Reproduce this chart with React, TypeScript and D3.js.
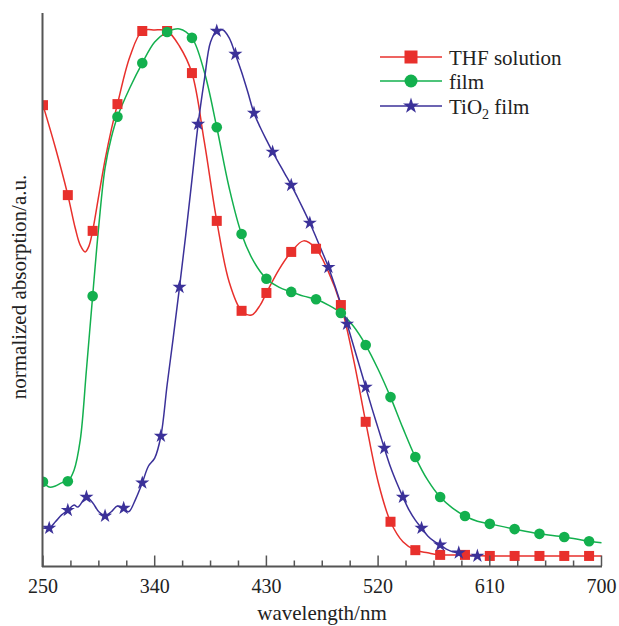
import React from "react";
import * as d3 from "d3";

// ---- Data ----
const thfWl = [250, 260, 270, 276, 280, 284, 287, 290, 295, 300, 305, 310, 320, 330, 340, 350, 360, 370, 380, 390, 400, 410, 418, 425, 430, 440, 450, 460, 470, 480, 490, 500, 510, 520, 530, 540, 550, 560, 570, 590, 610, 630, 650, 670, 690, 700];
const thfAbs = [0.859, 0.778, 0.688, 0.625, 0.593, 0.58, 0.591, 0.62, 0.688, 0.755, 0.812, 0.861, 0.951, 1.0, 1.002, 1.0, 0.971, 0.92, 0.789, 0.639, 0.523, 0.468, 0.46, 0.479, 0.502, 0.546, 0.58, 0.601, 0.586, 0.542, 0.479, 0.378, 0.257, 0.143, 0.067, 0.029, 0.013, 0.008, 0.004, 0.004, 0.002, 0.002, 0.002, 0.002, 0.002, 0.002];
const thfMarkers = [250, 270, 290, 310, 330, 350, 370, 390, 410, 430, 450, 470, 490, 510, 530, 550, 570, 590, 610, 630, 650, 670, 690];

const filmWl = [250, 255, 260, 265, 270, 275, 280, 285, 290, 295, 300, 305, 310, 320, 330, 340, 350, 360, 370, 380, 390, 400, 410, 420, 430, 440, 450, 460, 470, 480, 490, 500, 510, 520, 530, 540, 550, 560, 570, 580, 590, 600, 610, 630, 650, 670, 690, 700];
const filmAbs = [0.143, 0.133, 0.135, 0.141, 0.144, 0.165, 0.222, 0.356, 0.496, 0.631, 0.74, 0.797, 0.837, 0.892, 0.939, 0.979, 0.998, 1.004, 0.987, 0.922, 0.817, 0.702, 0.614, 0.561, 0.529, 0.513, 0.504, 0.496, 0.49, 0.479, 0.464, 0.439, 0.403, 0.357, 0.304, 0.245, 0.19, 0.146, 0.114, 0.093, 0.078, 0.068, 0.063, 0.053, 0.044, 0.038, 0.03, 0.027];
const filmMarkers = [250, 270, 290, 310, 330, 350, 370, 390, 410, 430, 450, 470, 490, 510, 530, 550, 570, 590, 610, 630, 650, 670, 690];

const tioWl = [250, 255, 260, 265, 270, 275, 278, 285, 290, 295, 300, 305, 310, 315, 319, 325, 330, 335, 340, 345, 350, 355, 360, 365, 370, 375, 380, 385, 390, 395, 400, 405, 410, 415, 420, 425, 430, 435, 440, 445, 450, 455, 460, 465, 470, 475, 480, 485, 490, 495, 500, 505, 510, 515, 520, 525, 530, 535, 540, 545, 550, 555, 560, 565, 570, 575, 580, 585, 590, 595, 600];
const tioAbs = [0.055, 0.055, 0.067, 0.08, 0.089, 0.099, 0.095, 0.114, 0.103, 0.086, 0.078, 0.086, 0.097, 0.093, 0.086, 0.112, 0.141, 0.173, 0.188, 0.23, 0.327, 0.418, 0.513, 0.612, 0.717, 0.823, 0.907, 0.979, 1.0, 1.002, 0.987, 0.956, 0.922, 0.884, 0.844, 0.817, 0.793, 0.77, 0.749, 0.728, 0.707, 0.684, 0.66, 0.635, 0.608, 0.58, 0.551, 0.517, 0.481, 0.443, 0.403, 0.363, 0.323, 0.283, 0.245, 0.207, 0.171, 0.141, 0.114, 0.089, 0.07, 0.055, 0.04, 0.03, 0.023, 0.015, 0.01, 0.008, 0.004, 0.002, 0.002];
const tioMarkers = [255, 270, 285, 300, 315, 330, 345, 360, 375, 390, 405, 420, 435, 450, 465, 480, 495, 510, 525, 540, 555, 570, 585, 600];

const xMajorTicks = [250, 340, 430, 520, 610, 700];
const xMinorStep = 22.5;

const RED = "#e8302c";
const GREEN = "#13b04e";
const BLUE = "#3b3199";
const AXIS = "#555555";
const FONT = "'Liberation Serif', 'Times New Roman', serif";

const W = 619;
const H = 626;

export default function App() {
  const x = d3.scaleLinear().domain([250, 700]).range([43, 601.5]);
  const y = d3.scaleLinear().domain([0, 1]).range([557, 31]);

  const line = d3
    .line<[number, number]>()
    .x((d) => x(d[0]))
    .y((d) => y(d[1]))
    .curve(d3.curveCatmullRom.alpha(0.5));

  const series = [
    { wl: thfWl, abs: thfAbs, markers: thfMarkers, color: RED, kind: "square" },
    { wl: filmWl, abs: filmAbs, markers: filmMarkers, color: GREEN, kind: "circle" },
    { wl: tioWl, abs: tioAbs, markers: tioMarkers, color: BLUE, kind: "star" },
  ];

  const starPath = d3.symbol(d3.symbolStar, 62)()!;
  const starPathLegend = d3.symbol(d3.symbolStar, 80)()!;

  const marker = (kind: string, color: string, cx: number, cy: number, key: any, legend = false) => {
    if (kind === "square") {
      const s = legend ? 13 : 10;
      return <rect key={key} x={cx - s / 2} y={cy - s / 2} width={s} height={s} fill={color} />;
    }
    if (kind === "circle") {
      return <circle key={key} cx={cx} cy={cy} r={legend ? 6.5 : 5.3} fill={color} />;
    }
    return (
      <path key={key} d={legend ? starPathLegend : starPath} transform={`translate(${cx},${cy})`} fill={color} />
    );
  };

  const minorTicks = d3.range(250, 700.01, xMinorStep).filter((t) => !xMajorTicks.some((m) => Math.abs(m - t) < 1e-6));

  const legendRows = [
    { label: "THF solution", color: RED, kind: "square", y: 57 },
    { label: "film", color: GREEN, kind: "circle", y: 81 },
    { label: "TiO2", color: BLUE, kind: "star", y: 106 },
  ];

  return (
    <svg width={W} height={H} style={{ position: "absolute", left: 0, top: 0, background: "#fff" }}>
      <defs>
        <clipPath id="plotclip">
          <rect x={43} y={0} width={570} height={567} />
        </clipPath>
      </defs>
      <rect x={0} y={0} width={W} height={H} fill="#fff" />

      <g clipPath="url(#plotclip)">
        {series.map((s, i) => {
          const pts: [number, number][] = s.wl.map((w, j) => [w, s.abs[j]]);
          return <path key={"l" + i} d={line(pts)!} fill="none" stroke={s.color} strokeWidth={1.5} />;
        })}
        {series.map((s, i) =>
          s.markers.map((w, j) => {
            const idx = s.wl.indexOf(w);
            return marker(s.kind, s.color, x(w), y(s.abs[idx]), `m${i}-${j}`);
          })
        )}
      </g>

      {/* axes */}
      <line x1={42.5} y1={13} x2={42.5} y2={567} stroke={AXIS} strokeWidth={2} />
      <line x1={42} y1={566.5} x2={602} y2={566.5} stroke={AXIS} strokeWidth={2} />
      {xMajorTicks.map((t) => (
        <line key={"M" + t} x1={x(t)} x2={x(t)} y1={566} y2={555.5} stroke={AXIS} strokeWidth={1.5} />
      ))}
      {minorTicks.map((t) => (
        <line key={"m" + t} x1={x(t)} x2={x(t)} y1={566} y2={560.5} stroke={AXIS} strokeWidth={1.5} />
      ))}
      {xMajorTicks.map((t) => (
        <text key={"t" + t} x={x(t)} y={593} textAnchor="middle" fontFamily={FONT} fontSize={20} fill="#222">
          {t}
        </text>
      ))}
      <text x={322} y={620} textAnchor="middle" fontFamily={FONT} fontSize={21} fill="#222">
        wavelength/nm
      </text>
      <text
        transform="translate(26,287) rotate(-90)"
        textAnchor="middle"
        fontFamily={FONT}
        fontSize={21}
        fill="#222"
      >
        normalized absorption/a.u.
      </text>

      {/* legend */}
      {legendRows.map((r) => (
        <g key={r.label}>
          <line x1={380} x2={442} y1={r.y} y2={r.y} stroke={r.color} strokeWidth={1.5} />
          {marker(r.kind, r.color, 411, r.y, "lg" + r.label, true)}
          <text x={449} y={r.y + 7.5} fontFamily={FONT} fontSize={21} fill="#222">
            {r.label === "TiO2" ? (
              <>
                TiO<tspan fontSize={14} dy={5}>2</tspan>
                <tspan dy={-5}> film</tspan>
              </>
            ) : (
              r.label
            )}
          </text>
        </g>
      ))}
    </svg>
  );
}
